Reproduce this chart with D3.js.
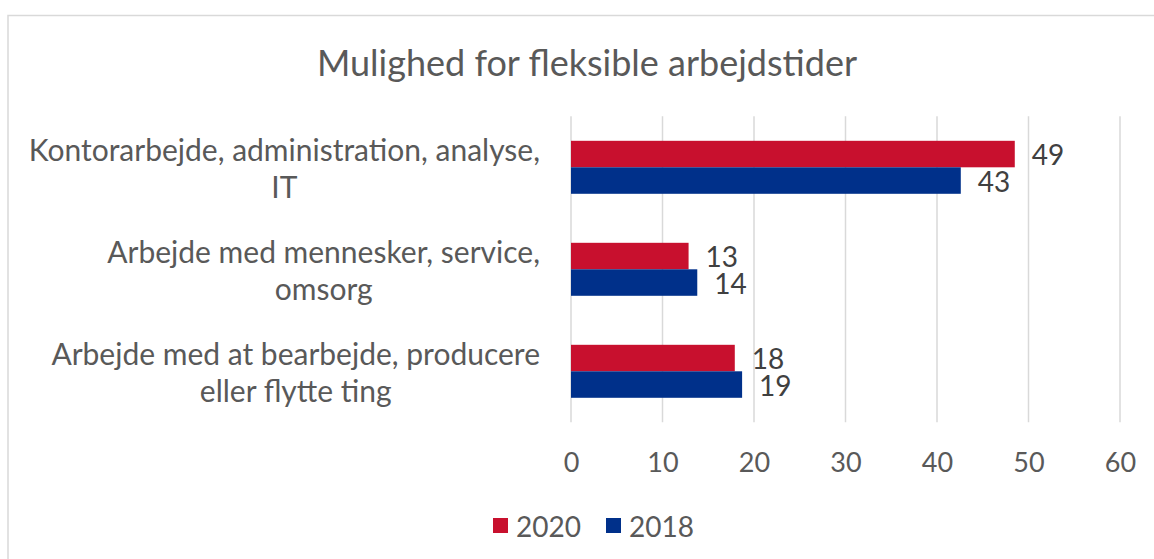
<!DOCTYPE html>
<html>
<head>
<meta charset="utf-8">
<script src="https://cdn.jsdelivr.net/npm/d3@7"></script>
<style>
  html, body { margin: 0; padding: 0; background: #fff; }
  svg { display: block; }
  text { font-family: Lato, "Open Sans", sans-serif; }
</style>
</head>
<body>
<svg id="chart" width="1154" height="559"></svg>
<script>
const title = "Mulighed for fleksible arbejdstider";
const categories = [
  ["Kontorarbejde, administration, analyse,", "IT"],
  ["Arbejde med mennesker, service,", "omsorg"],
  ["Arbejde med at bearbejde, producere", "eller flytte ting"]
];
const seriesNames = ["2020", "2018"];
const values2020 = [48.5, 12.85, 17.9];
const values2018 = [42.6, 13.8, 18.7];
const labels2020 = ["49", "13", "18"];
const labels2018 = ["43", "14", "19"];
const xTicks = [0, 10, 20, 30, 40, 50, 60];
const colors = ["#C8102E", "#00308A"];

const svg = d3.select("#chart");
const W = 1154, H = 559;

// chart border
svg.append("rect").attr("x", 8).attr("y", 15.5).attr("width", W + 10).attr("height", H + 10)
  .attr("fill", "#fff").attr("stroke", "#d9d9d9").attr("stroke-width", 1.5);

const x = d3.scaleLinear().domain([0, 60]).range([571, 1120]);
const catIdx = categories.map((d, i) => i);
const y = d3.scaleBand().domain(catIdx).range([116.3, 422.3]).padding(0);
const ys = d3.scaleBand().domain(seriesNames).range([0, y.bandwidth()]).paddingInner(0).paddingOuter(0.925);

// gridlines
svg.append("g").selectAll("line").data(xTicks).join("line")
  .attr("x1", d => x(d)).attr("x2", d => x(d))
  .attr("y1", 116.3).attr("y2", 422.3)
  .attr("stroke", "#d9d9d9").attr("stroke-width", 1.5);

// axis tick labels
const xAxis = d3.axisBottom(x).tickValues(xTicks).tickSize(0).tickPadding(0);
const gx = svg.append("g").attr("transform", "translate(0,453)").call(xAxis);
gx.select(".domain").remove();
gx.selectAll("text").attr("fill", "#595959").attr("font-size", 27)
  .attr("font-family", "Lato, sans-serif").attr("dy", "0.71em").attr("y", 0);

// title
svg.append("text").attr("x", 587).attr("y", 62).attr("text-anchor", "middle")
  .attr("dominant-baseline", "central").attr("fill", "#595959").attr("font-size", 36)
  .text(title);

// category labels
const lineH = 37;
categories.forEach((lines, i) => {
  const cy = y(i) + y.bandwidth() / 2;
  const t = svg.append("text").attr("fill", "#595959").attr("font-size", 30)
    .attr("text-anchor", "middle");
  const n = lines.length;
  lines.forEach((ln, j) => {
    t.append("tspan").attr("y", cy + (j - (n - 1) / 2) * lineH)
      .attr("dominant-baseline", "central").text(ln);
  });
  // right-align block at 540, lines centered on each other
  const widths = t.selectAll("tspan").nodes().map(n => n.getComputedTextLength());
  const maxW = d3.max(widths);
  t.selectAll("tspan").attr("x", 540 - maxW / 2);
});

// bars
const series = [values2020, values2018];
const labs = [labels2020, labels2018];
series.forEach((vals, s) => {
  const g = svg.append("g");
  g.selectAll("rect").data(vals).join("rect")
    .attr("x", x(0)).attr("y", (d, i) => y(i) + ys(seriesNames[s]))
    .attr("width", d => x(d) - x(0)).attr("height", ys.bandwidth())
    .attr("fill", colors[s]);
  g.selectAll("text").data(vals).join("text")
    .attr("x", d => x(d) + 17).attr("y", (d, i) => y(i) + ys(seriesNames[s]) + ys.bandwidth() / 2)
    .attr("dominant-baseline", "central").attr("fill", "#404040").attr("font-size", 28)
    .text((d, i) => labs[s][i]);
});

// legend
const legend = svg.append("g");
const legX = [493, 606];
seriesNames.forEach((nm, i) => {
  legend.append("rect").attr("x", legX[i]).attr("y", 518).attr("width", 15).attr("height", 15)
    .attr("fill", colors[i]);
  legend.append("text").attr("x", legX[i] + 23).attr("y", 526).attr("dominant-baseline", "central")
    .attr("fill", "#595959").attr("font-size", 28).text(nm);
});
</script>
</body>
</html>
